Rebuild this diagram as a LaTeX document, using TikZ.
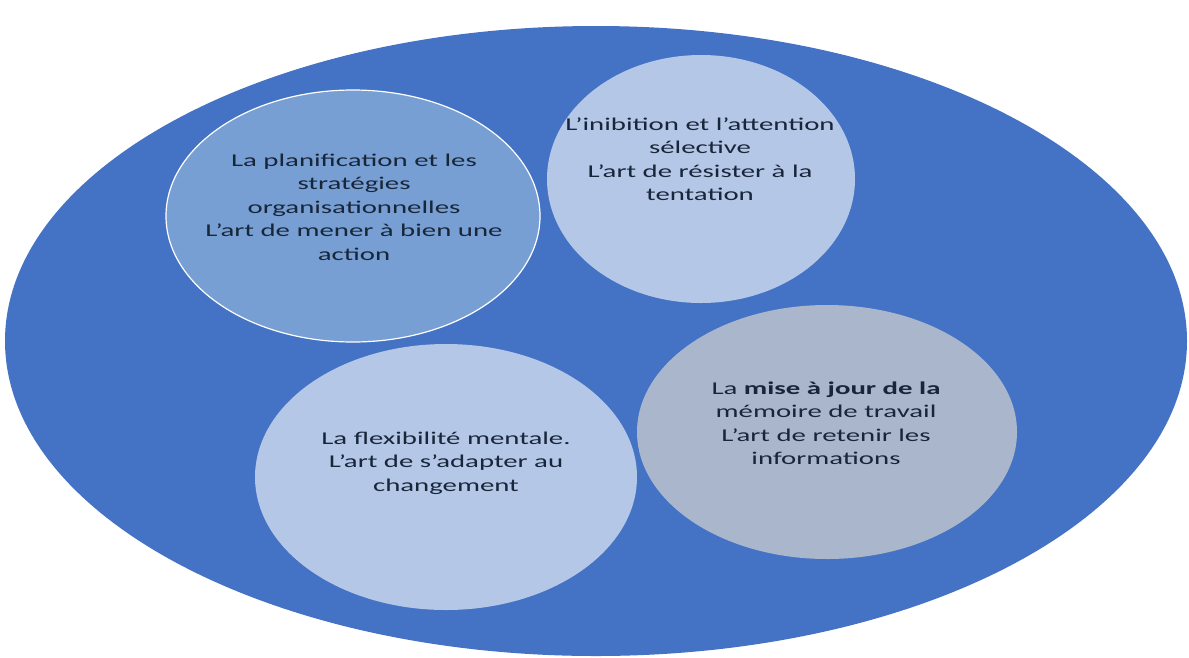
\documentclass[tikz,border=0pt]{standalone}
\usepackage{fontspec}
\setmainfont{Carlito}[Ligatures=ResetAll]
\begin{document}
\begin{tikzpicture}[x=1pt,y=-1pt,
  lbl/.style={align=center,text=txtc,font=\fontsize{18}{23.5}\selectfont,xscale=1.6,transform shape,inner sep=0pt}]
\definecolor{bigc}{HTML}{4472C4}
\definecolor{c1}{HTML}{779FD3}
\definecolor{c2}{HTML}{B4C7E7}
\definecolor{c4}{HTML}{AAB6CC}
\definecolor{txtc}{HTML}{18263A}
\useasboundingbox (0,0) rectangle (1189,657);
\fill[bigc] (596,341) ellipse [x radius=591, y radius=315];
\fill[c1,draw=white,line width=1.2pt] (353,216) ellipse [x radius=187, y radius=126];
\fill[c2] (701,179) ellipse [x radius=154, y radius=124];
\fill[c2] (446,477) ellipse [x radius=191, y radius=133];
\fill[c4] (827,432) ellipse [x radius=190, y radius=127];
\node[lbl] (plan) at (354,207) {La planification et les\\strat\'egies\\organisationnelles\\L'art de mener \`a bien une\\action};
\node[lbl] (inhib) at (700,159) {L'inibition et l'attention\\s\'elective\\L'art de r\'esister \`a la\\tentation};
\node[lbl] (flex) at (446,463) {La flexibilit\'e mentale.\\L'art de s'adapter au\\changement};
\node[lbl] (maj) at (826,423) {La \textbf{mise \`a jour de la}\\m\'emoire de travail\\L'art de retenir les\\informations};
\end{tikzpicture}
\end{document}
